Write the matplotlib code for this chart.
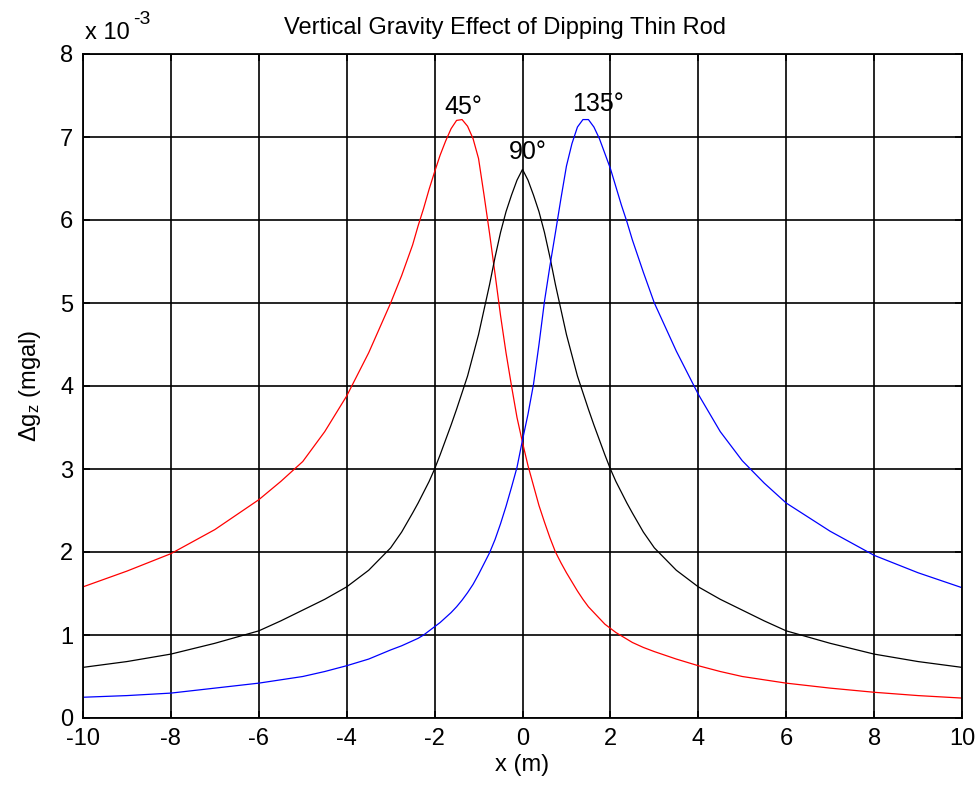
import matplotlib
matplotlib.use("Agg")
import matplotlib.pyplot as plt

plt.rcParams['font.family'] = ['Liberation Sans', 'DejaVu Sans']
plt.rcParams['mathtext.default'] = 'regular'

x = [-10, -9, -8, -7, -6, -5.5, -5, -4.5, -4, -3.5, -3, -2.75,
     -2.5, -2.375, -2.25, -2.125, -2.0, -1.875, -1.75, -1.625, -1.5, -1.375,
     -1.25, -1.125, -1.0, -0.875, -0.75, -0.625, -0.5, -0.375, -0.25, -0.125,
     0.0, 0.125, 0.25, 0.375, 0.5, 0.625, 0.75, 0.875, 1.0, 1.125,
     1.25, 1.375, 1.5, 1.625, 1.75, 1.875, 2.0, 2.125, 2.25, 2.375, 2.5,
     2.75, 3, 3.5, 4, 4.5, 5, 5.5, 6, 7, 8, 9, 10]

dip45 = [1.58, 1.77, 1.98, 2.27, 2.63, 2.85, 3.09, 3.45, 3.88, 4.40, 5.00, 5.33,
         5.70, 5.93, 6.14, 6.37, 6.58, 6.78, 6.95, 7.10, 7.20, 7.21,
         7.13, 6.98, 6.74, 6.30, 5.84, 5.35, 4.85, 4.40, 4.00, 3.62,
         3.32, 3.04, 2.80, 2.56, 2.36, 2.17, 2.00, 1.87, 1.75, 1.64,
         1.53, 1.43, 1.34, 1.27, 1.20, 1.13, 1.08, 1.03, 0.99, 0.95, 0.91,
         0.85, 0.80, 0.71, 0.63, 0.56, 0.50, 0.46, 0.42, 0.36, 0.31, 0.27, 0.24]

dip90 = [0.61, 0.68, 0.77, 0.90, 1.05, 1.17, 1.30, 1.43, 1.58, 1.78, 2.05, 2.24,
         2.47, 2.59, 2.72, 2.85, 3.00, 3.17, 3.35, 3.53, 3.72, 3.92,
         4.12, 4.37, 4.62, 4.92, 5.22, 5.55, 5.85, 6.10, 6.30, 6.48,
         6.61, 6.48, 6.30, 6.10, 5.85, 5.55, 5.22, 4.92, 4.62, 4.37,
         4.12, 3.92, 3.72, 3.53, 3.35, 3.17, 3.00, 2.85, 2.72, 2.59, 2.47,
         2.24, 2.05, 1.78, 1.58, 1.43, 1.30, 1.17, 1.05, 0.90, 0.77, 0.68, 0.61]

dip135 = [0.25, 0.27, 0.30, 0.36, 0.42, 0.46, 0.50, 0.56, 0.63, 0.71, 0.82, 0.87,
          0.93, 0.96, 1.00, 1.05, 1.10, 1.15, 1.21, 1.27, 1.34, 1.42,
          1.51, 1.61, 1.73, 1.86, 1.99, 2.15, 2.34, 2.55, 2.78, 3.02,
          3.35, 3.66, 4.02, 4.50, 5.02, 5.45, 5.85, 6.26, 6.65, 6.92,
          7.12, 7.21, 7.21, 7.12, 6.98, 6.80, 6.62, 6.40, 6.18, 5.98, 5.76,
          5.37, 5.00, 4.42, 3.90, 3.45, 3.10, 2.83, 2.59, 2.25, 1.96, 1.75, 1.57]

labels = ['45°', '90°', '135°']
label_pos = [(-1.34, 7.36), (0.11, 6.82), (1.71, 7.40)]
colors = ['red', 'black', 'blue']

xticks = list(range(-10, 11, 2))
yticks = list(range(0, 9))

fig = plt.figure(figsize=(9.8, 7.87), dpi=100)
ax = fig.add_axes([83/980, 1-718/787, (962-83)/980, (718-54)/787])

for ys, c in zip([dip45, dip90, dip135], colors):
    ax.plot(x, ys, color=c, lw=0.9)

for lab, (lx, ly) in zip(labels, label_pos):
    ax.text(lx, ly, lab, ha='center', va='center', fontsize=18)

ax.set_xlim(-10, 10)
ax.set_ylim(0, 8)
ax.set_xticks(xticks)
ax.set_yticks(yticks)
ax.set_xticklabels([str(t) for t in xticks])
ax.grid(True, color='black', lw=1.2, ls='-')
ax.set_axisbelow(True)
for s in ax.spines.values():
    s.set_linewidth(1.3)
ax.tick_params(direction='in', labelsize=17, length=5, width=1.2, pad=7,
               top=True, right=True)

ax.set_xlabel('x (m)', fontsize=17, labelpad=3)
ax.set_ylabel('Δg$_z$ (mgal)', fontsize=17, labelpad=12)

fig.text(505/980, 1-28/787, 'Vertical Gravity Effect of Dipping Thin Rod',
         ha='center', va='center', fontsize=17)
fig.text(85/980, 1-33/787, 'x 10', ha='left', va='center', fontsize=17)
fig.text(133/980, 1-20/787, '-3', ha='left', va='center', fontsize=14)

fig.savefig('out.png', dpi=100)
